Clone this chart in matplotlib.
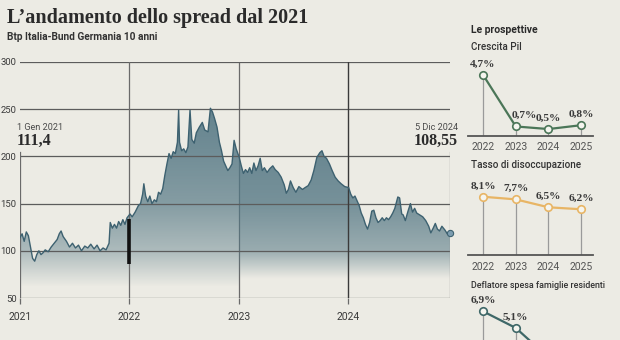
import numpy as np
import pandas as pd
import matplotlib
matplotlib.use("Agg")
import matplotlib.pyplot as plt
from matplotlib.colors import LinearSegmentedColormap
from matplotlib.patches import PathPatch
import matplotlib.dates as mdates

plt.rcParams['font.family'] = ['Roboto', 'DejaVu Sans']

# spread Btp-Bund, punti base
spread_dates = [
    "2021-01-01", "2021-01-08", "2021-01-15", "2021-01-22", "2021-01-29", "2021-02-05",
    "2021-02-12", "2021-02-19", "2021-02-26", "2021-03-05", "2021-03-12", "2021-03-19",
    "2021-03-26", "2021-04-05", "2021-04-15", "2021-04-25", "2021-05-05", "2021-05-12",
    "2021-05-18", "2021-05-25", "2021-06-05", "2021-06-15", "2021-06-25", "2021-07-05",
    "2021-07-15", "2021-07-25", "2021-08-05", "2021-08-15", "2021-08-25", "2021-09-05",
    "2021-09-15", "2021-09-25", "2021-10-05", "2021-10-15", "2021-10-25", "2021-10-29",
    "2021-11-05", "2021-11-12", "2021-11-19", "2021-11-26", "2021-12-03", "2021-12-10",
    "2021-12-17", "2021-12-24",
    "2022-01-03", "2022-01-10", "2022-01-20", "2022-01-31", "2022-02-07", "2022-02-14",
    "2022-02-18", "2022-02-24", "2022-03-03", "2022-03-10", "2022-03-17", "2022-03-25",
    "2022-04-01", "2022-04-08", "2022-04-15", "2022-04-22", "2022-04-29", "2022-05-06",
    "2022-05-13", "2022-05-20", "2022-05-27", "2022-06-03", "2022-06-10", "2022-06-14",
    "2022-06-17", "2022-06-24", "2022-07-01", "2022-07-08", "2022-07-15", "2022-07-22",
    "2022-07-28", "2022-08-05", "2022-08-12", "2022-08-22", "2022-09-01", "2022-09-09",
    "2022-09-20", "2022-09-28", "2022-10-05", "2022-10-12", "2022-10-20", "2022-10-28",
    "2022-11-04", "2022-11-11", "2022-11-18", "2022-11-25", "2022-12-02", "2022-12-09",
    "2022-12-16", "2022-12-23",
    "2023-01-02", "2023-01-09", "2023-01-16", "2023-01-23", "2023-01-30", "2023-02-06",
    "2023-02-13", "2023-02-20", "2023-02-27", "2023-03-06", "2023-03-13", "2023-03-20",
    "2023-03-27", "2023-04-05", "2023-04-14", "2023-04-24", "2023-05-02", "2023-05-12",
    "2023-05-22", "2023-06-01", "2023-06-08", "2023-06-15", "2023-06-22", "2023-07-01",
    "2023-07-10", "2023-07-20", "2023-08-01", "2023-08-10", "2023-08-20", "2023-08-30",
    "2023-09-08", "2023-09-18", "2023-09-28", "2023-10-05", "2023-10-12", "2023-10-20",
    "2023-10-30", "2023-11-08", "2023-11-18", "2023-11-28", "2023-12-08", "2023-12-20",
    "2024-01-02", "2024-01-09", "2024-01-16", "2024-01-23", "2024-01-30", "2024-02-06",
    "2024-02-13", "2024-02-20", "2024-02-27", "2024-03-05", "2024-03-12", "2024-03-19",
    "2024-03-26", "2024-04-02", "2024-04-09", "2024-04-16", "2024-04-23", "2024-04-30",
    "2024-05-07", "2024-05-14", "2024-05-21", "2024-05-28", "2024-06-04", "2024-06-14",
    "2024-06-20", "2024-06-27", "2024-07-02", "2024-07-09", "2024-07-18", "2024-07-26",
    "2024-08-02", "2024-08-09", "2024-08-16", "2024-08-26", "2024-09-05", "2024-09-15",
    "2024-09-25", "2024-10-02", "2024-10-10", "2024-10-17", "2024-10-24", "2024-10-31",
    "2024-11-08", "2024-11-18", "2024-11-26", "2024-12-05",
]
spread_values = [
    114, 118, 110, 120, 116, 104,
    92, 89, 96, 100, 96, 98,
    101, 99, 104, 108, 112, 118,
    121, 115, 110, 104, 108, 103,
    106, 100, 105, 103, 107, 102,
    106, 100, 103, 101, 108, 130,
    124, 128, 124, 131, 127, 133,
    128, 135,
    139, 136, 141, 148, 150, 160,
    171, 158, 152, 158, 150, 154,
    152, 162, 160, 166, 180, 192,
    203, 198, 205, 203, 215, 249,
    215, 206, 208, 204, 210, 249,
    218, 214, 225, 231, 236, 228,
    226, 251, 247, 240, 231, 215,
    206, 195, 190, 185, 188, 192,
    217, 208,
    199, 190, 182, 186, 183, 188,
    182, 193, 185, 190, 198, 185,
    188, 183, 187, 190, 186, 183,
    178, 170, 161, 165, 174, 167,
    162, 168, 165, 167, 169, 175,
    185, 199, 204, 206, 200, 198,
    192, 185, 178, 174, 171, 168,
    167, 160, 156, 158, 153, 148,
    140, 135, 128, 123, 130, 142,
    143, 135, 130, 132, 135, 132,
    135, 133, 136, 140, 145, 157,
    156, 139, 138, 132, 142, 150,
    141, 145, 140, 138, 136, 132,
    126, 119, 124, 129, 123, 121,
    126, 122, 118, 119,
]
year_labels = ["2021", "2022", "2023", "2024"]
y_ticks = [50, 100, 150, 200, 250, 300]
bar_2022 = (86, 134)

forecast_years = ["2022", "2023", "2024", "2025"]
pil = [4.7, 0.7, 0.5, 0.8]
disoccupazione = [8.1, 7.7, 6.5, 6.2]
deflatore = [6.9, 5.1, 1.9, 2.0]

BG = "#ecebe4"
W, H = 620, 340


def box(l, t, r, b):
    return [l / W, 1 - b / H, (r - l) / W, (b - t) / H]


def fx(px):
    return px / W


def fy(py):
    return 1 - py / H


fig = plt.figure(figsize=(6.2, 3.4), dpi=100, facecolor=BG)

# --- grafico principale ---
ax = fig.add_axes(box(20, 62, 450, 298))
ax.set_facecolor('none')
d = pd.to_datetime(spread_dates)
v = np.array(spread_values, dtype=float)
xs = mdates.date2num(d)
x0, x1 = xs[0], xs[-1]
x23 = mdates.date2num(pd.Timestamp("2023-01-01"))

poly = ax.fill_between(xs, v, 40, color='none', lw=0)
clip = PathPatch(poly.get_paths()[0], transform=ax.transData, facecolor='none', edgecolor='none')
ax.add_patch(clip)
grad = np.linspace(0, 1, 256).reshape(-1, 1)
steel = (0.33, 0.47, 0.52)
# sfumatura verticale: da trasparente in basso a grigio-azzurro in alto
cm1 = LinearSegmentedColormap.from_list('f1', [
    (0.0, steel + (0.0,)), (0.2, steel + (0.42,)), (0.45, steel + (0.68,)),
    (0.71, steel + (0.8,)), (1.0, steel + (0.9,))])
cm2 = LinearSegmentedColormap.from_list('f2', [
    (0.0, steel + (0.0,)), (0.19, steel + (0.55,)), (0.5, steel + (0.78,)),
    (1.0, steel + (0.9,))])
im1 = ax.imshow(grad, extent=[x0, x23, 62, 255], origin='lower', aspect='auto', cmap=cm1, zorder=1)
im1.set_clip_path(clip)
im2 = ax.imshow(grad, extent=[x23, x1, 70, 230], origin='lower', aspect='auto', cmap=cm2, zorder=1)
im2.set_clip_path(clip)

ax.plot(xs, v, color='#3d6170', lw=1.0, zorder=4)

for yv in y_ticks:
    ax.axhline(yv, color='#5c5c5c', lw=0.9, zorder=3)

year_pos = [mdates.date2num(pd.Timestamp(f"{y}-01-01")) for y in year_labels]
ax.axvline(year_pos[1], color='#6a6a6a', lw=0.9, zorder=3)
ax.axvline(year_pos[2], color='#6a6a6a', lw=0.9, zorder=0.5)
ax.axvline(year_pos[3], color='#3a3a3a', lw=1.0, zorder=3)
ax.axvline(year_pos[0], ymin=0, ymax=0.62, color='#6a6a6a', lw=0.9, zorder=3)
ax.axvline(x1, ymin=0, ymax=0.62, color='#8a8a8a', lw=0.9, zorder=3)
ax.vlines(year_pos[1], bar_2022[0], bar_2022[1], color='#111111', lw=2.6, zorder=5)
ax.plot(x1, v[-1], 'o', ms=4.5, mfc='#7d9db0', mec='#3d6170', mew=0.8, zorder=6, clip_on=False)

ax.set_xlim(x0, x1)
ax.set_ylim(50, 300)
ax.set_xticks(year_pos)
ax.set_xticklabels(year_labels)
ax.set_yticks(y_ticks)
ax.set_yticklabels([str(t) for t in y_ticks])
ax.tick_params(axis='x', length=4, width=0.9, color='#6a6a6a', pad=6, labelsize=7.5, labelcolor='#3a3a3a')
ax.tick_params(axis='y', length=0, pad=2.5, labelsize=6.8, labelcolor='#3a3a3a')
for s in ax.spines.values():
    s.set_visible(False)

# titoli
fig.text(fx(7), fy(23.5), "L\u2019andamento dello spread dal 2021", family='Liberation Serif',
         fontsize=14.5, fontweight='bold', color='#2b2b2b', va='baseline')
fig.text(fx(7), fy(40.5), "Btp Italia-Bund Germania 10 anni", fontsize=7.3,
         fontweight='bold', color='#333333', va='baseline')

fig.text(fx(17), fy(129.5), "1 Gen 2021", fontsize=6.6, color='#4a4a4a', va='baseline')
fig.text(fx(17), fy(144.5), "111,4", family='Liberation Serif', fontsize=11.5,
         fontweight='bold', color='#2b2b2b', va='baseline')
fig.text(fx(458), fy(129.5), "5 Dic 2024", fontsize=6.6, color='#4a4a4a', va='baseline', ha='right')
fig.text(fx(458), fy(144.5), "108,55", family='Liberation Serif', fontsize=11.5,
         fontweight='bold', color='#2b2b2b', va='baseline', ha='right')

# --- le prospettive ---
fig.text(fx(471), fy(32.7), "Le prospettive", fontsize=7.5, fontweight='bold',
         color='#2b2b2b', va='baseline')


def panel(rect, ylim, values, color, title, title_y, dx, title_size=7.1, years=True):
    pax = fig.add_axes(rect)
    pax.set_facecolor('none')
    idx = np.arange(len(values))
    pax.set_xlim(-0.46, 3.36)
    pax.set_ylim(*ylim)
    pax.vlines(idx, ylim[0], values, color='#9a9a9a', lw=0.9, zorder=1)
    pax.plot(idx, values, color=color, lw=1.6, zorder=2, clip_on=False)
    pax.plot(idx, values, 'o', ms=5.4, mfc='#f5f5ef', mec=color, mew=1.2, zorder=3, clip_on=False)
    for i, val in enumerate(values):
        pax.annotate(f"{val:.1f}%".replace('.', ','), (i, val), xytext=(dx[i], 6),
                     textcoords='offset points', ha='center', va='baseline',
                     family='Liberation Serif', fontsize=8.2, fontweight='bold',
                     color='#3a3a3a', annotation_clip=False)
    for s in ['top', 'right', 'left']:
        pax.spines[s].set_visible(False)
    pax.spines['bottom'].set_color('#555555')
    pax.spines['bottom'].set_linewidth(1.3)
    pax.set_yticks([])
    pax.set_xticks(idx)
    pax.set_xticklabels(forecast_years if years else [])
    pax.tick_params(axis='x', length=0, pad=5, labelsize=7.5, labelcolor='#555555')
    fig.text(fx(471), fy(title_y), title, fontsize=title_size, fontweight='medium',
             color='#333333', va='baseline')
    return pax


panel(box(468, 71, 593, 135.5), (0, 5), pil, '#4b7658', "Crescita Pil", 50, [0, 6, 0, 0])
panel(box(468, 187.5, 593, 255), (-0.73, 9.5), disoccupazione, '#e8b565',
      "Tasso di disoccupazione", 168, [0, 0, 0, 0])
# il terzo riquadro prosegue oltre il bordo inferiore, come nell'originale
panel(box(468, 305.8, 593, 375), (0, 7.5), deflatore, '#3f6868',
      "Deflatore spesa famiglie residenti", 288, [0, 0, 0, 0], title_size=6.4, years=False)

fig.savefig("out.png", dpi=100, facecolor=BG)
